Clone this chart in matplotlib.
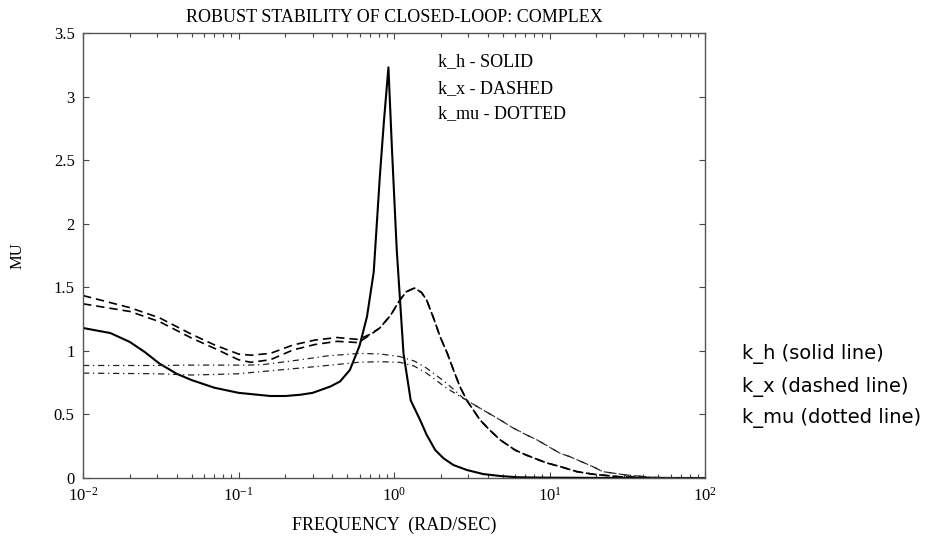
import matplotlib
matplotlib.use('Agg')
from matplotlib import pyplot as plt
from matplotlib.ticker import LogLocator, NullFormatter
import numpy as np

plt.rcParams['font.family'] = ['Liberation Serif', 'DejaVu Serif']
plt.rcParams['mathtext.fontset'] = 'custom'
plt.rcParams['mathtext.rm'] = 'Liberation Serif'
plt.rcParams['mathtext.default'] = 'regular'

# mu bounds vs frequency (rad/sec)
w_h = [0.01, 0.015, 0.02, 0.025, 0.031, 0.04, 0.05, 0.07, 0.10, 0.16, 0.20, 0.25, 0.30,
       0.39, 0.45, 0.52, 0.60, 0.67, 0.74, 0.81, 0.86, 0.92, 0.97, 1.04, 1.15,
       1.28, 1.47, 1.62, 1.84, 2.08, 2.41, 2.94, 3.75, 4.8, 6.15, 9.1, 20.0, 100.0]
mu_h = [1.18, 1.14, 1.07, 0.99, 0.90, 0.82, 0.77, 0.71, 0.67, 0.645, 0.645, 0.655, 0.67,
        0.72, 0.76, 0.85, 1.04, 1.27, 1.62, 2.37, 2.80, 3.23, 2.58, 1.80, 0.98,
        0.61, 0.457, 0.34, 0.22, 0.155, 0.102, 0.063, 0.031, 0.016, 0.006, 0.003, 0.001, 0.0]

w_x = [0.01, 0.02, 0.031, 0.05, 0.07, 0.10, 0.12, 0.16, 0.225, 0.31, 0.43, 0.59,
       0.70, 0.81, 0.95, 1.09, 1.2, 1.35, 1.5, 1.62, 1.78, 1.98, 2.2, 2.41, 2.65,
       2.94, 3.57, 4.1, 4.81, 6.0, 7.1, 9.5, 11.7, 15.0, 19.0, 28.0, 46.0, 100.0]
mu_x_up = [1.435, 1.34, 1.26, 1.13, 1.047, 0.975, 0.966, 0.98, 1.047, 1.085, 1.105, 1.09,
           1.13, 1.18, 1.28, 1.40, 1.465, 1.494, 1.46, 1.40, 1.27, 1.11, 0.98, 0.85, 0.72,
           0.61, 0.457, 0.38, 0.30, 0.22, 0.18, 0.12, 0.09, 0.05, 0.03, 0.01, 0.002, 0.0]
mu_x_lo = [1.37, 1.31, 1.23, 1.10, 1.02, 0.93, 0.91, 0.93, 1.008, 1.05, 1.075, 1.065,
           1.125, 1.18, 1.28, 1.40, 1.465, 1.494, 1.46, 1.40, 1.27, 1.11, 0.98, 0.85, 0.72,
           0.61, 0.457, 0.38, 0.30, 0.22, 0.18, 0.12, 0.09, 0.05, 0.03, 0.01, 0.002, 0.0]

w_mu = [0.01, 0.03, 0.05, 0.10, 0.14, 0.25, 0.37, 0.59, 0.81, 1.09, 1.35, 1.62, 2.18,
        2.79, 3.57, 4.81, 5.8, 7.1, 8.3, 11.7, 13.5, 19.0, 22.0, 31.0, 46.0, 100.0]
mu_mu_up = [0.885, 0.885, 0.888, 0.888, 0.89, 0.93, 0.96, 0.98, 0.976, 0.955, 0.92, 0.864, 0.746,
            0.627, 0.549, 0.457, 0.395, 0.339, 0.30, 0.194, 0.168, 0.089, 0.05, 0.024, 0.005, 0.0]
mu_mu_lo = [0.825, 0.82, 0.81, 0.82, 0.837, 0.865, 0.885, 0.91, 0.915, 0.91, 0.88, 0.824, 0.706,
            0.627, 0.549, 0.457, 0.395, 0.339, 0.30, 0.194, 0.168, 0.089, 0.05, 0.024, 0.005, 0.0]

y_ticks = [0, 0.5, 1, 1.5, 2, 2.5, 3, 3.5]
y_labels = ['0', '0.5', '1', '1.5', '2', '2.5', '3', '3.5']

fig = plt.figure(figsize=(9.34, 5.44), dpi=100)
ax = fig.add_axes([0.0889, 0.1213, 0.666, 0.818])

dashdot = (0, (5, 3, 1, 3))
ax.semilogx(w_h, mu_h, color='black', lw=1.5, ls='-')
ax.semilogx(w_x, mu_x_up, color='black', lw=1.2, ls=(0, (5, 3)))
ax.semilogx(w_x, mu_x_lo, color='black', lw=1.2, ls=(0, (5, 3)))
ax.semilogx(w_mu, mu_mu_up, color='#222222', lw=0.9, ls=dashdot)
ax.semilogx(w_mu, mu_mu_lo, color='#222222', lw=0.9, ls=dashdot)

ax.set_xlim(1e-2, 1e2)
ax.set_ylim(0, 3.5)
ax.set_yticks(y_ticks)
ax.set_yticklabels(y_labels)
ax.xaxis.set_major_locator(LogLocator(base=10, numticks=10))
ax.xaxis.set_minor_locator(LogLocator(base=10, subs=np.arange(2, 10), numticks=20))
ax.xaxis.set_minor_formatter(NullFormatter())
ax.tick_params(which='both', direction='in', top=True, right=True,
               labelsize=12, color='#444444', width=0.8)
ax.tick_params(which='major', length=4, pad=6)
ax.tick_params(which='minor', length=3)
for s in ax.spines.values():
    s.set_color('#555555')
    s.set_linewidth(1.0)

ax.set_title('ROBUST STABILITY OF CLOSED-LOOP: COMPLEX', fontsize=13, pad=8)
ax.set_xlabel('FREQUENCY  (RAD/SEC)', fontsize=13, labelpad=9)
ax.set_ylabel('MU', fontsize=12, labelpad=20)

ax.text(0.571, 0.935, 'k_h - SOLID', transform=ax.transAxes, fontsize=13, va='center')
ax.text(0.571, 0.876, 'k_x - DASHED', transform=ax.transAxes, fontsize=13, va='center')
ax.text(0.571, 0.818, 'k_mu - DOTTED', transform=ax.transAxes, fontsize=13, va='center')

side = dict(fontsize=14, family=['DejaVu Sans'], va='center')
fig.text(0.794, 0.349, 'k_h (solid line)', **side)
fig.text(0.794, 0.288, 'k_x (dashed line)', **side)
fig.text(0.794, 0.231, 'k_mu (dotted line)', **side)

plt.savefig('out.png', dpi=100)
